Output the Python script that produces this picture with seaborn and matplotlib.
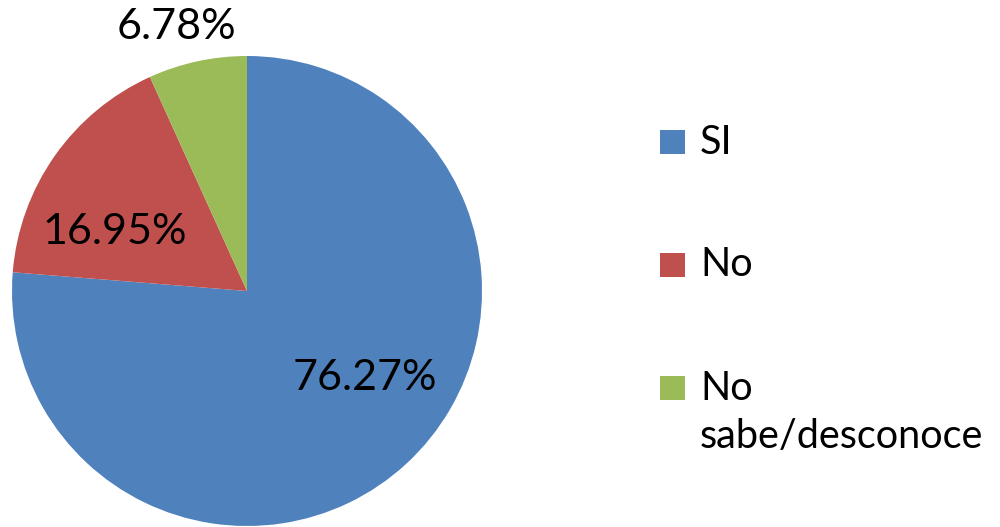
import matplotlib
matplotlib.use("Agg")
import matplotlib.pyplot as plt
import seaborn as sns
from matplotlib.patches import Rectangle

sns.set_theme(style="white")
plt.rcParams['font.family'] = ['Lato', 'DejaVu Sans']

categories = ["SI", "No", "No\nsabe/desconoce"]
values = [76.27, 16.95, 6.78]
pct_labels = ["76.27%", "16.95%", "6.78%"]
colors = ["#4F81BD", "#C0504D", "#9BBB59"]

# label positions (axes data units, pie radius = 1)
label_pos = [(0.50, -0.37), (-0.565, 0.25), (-0.30, 1.125)]

W, H = 1000, 527
fig = plt.figure(figsize=(W / 100, H / 100), dpi=100)
fig.patch.set_facecolor("white")

cx, cy, r = 247, 291, 235
ax = fig.add_axes([(cx - r) / W, (H - cy - r) / H, 2 * r / W, 2 * r / H])
wedges, _ = ax.pie(values, colors=colors, startangle=90, counterclock=False,
                   radius=1, wedgeprops=dict(linewidth=0))
ax.set_xlim(-1, 1)
ax.set_ylim(-1, 1)
ax.set_axis_off()
for txt, (x, y) in zip(pct_labels, label_pos):
    ax.text(x, y, txt, ha="center", va="center", fontsize=31, color="#000000", clip_on=False)

# legend
leg_y = [142, 265, 388]
for cat, col, y in zip(categories, colors, leg_y):
    fig.patches.append(Rectangle((660 / W, 1 - (y + 12) / H), 25 / W, 24 / H,
                                 transform=fig.transFigure, facecolor=col, edgecolor="none"))
    lines = cat.split("\n")
    for i, line in enumerate(lines):
        fig.text(700 / W, 1 - (y + i * 49) / H, line, ha="left", va="center",
                 fontsize=28.5, color="#000000")

fig.savefig("out.png", dpi=100, facecolor="white")
